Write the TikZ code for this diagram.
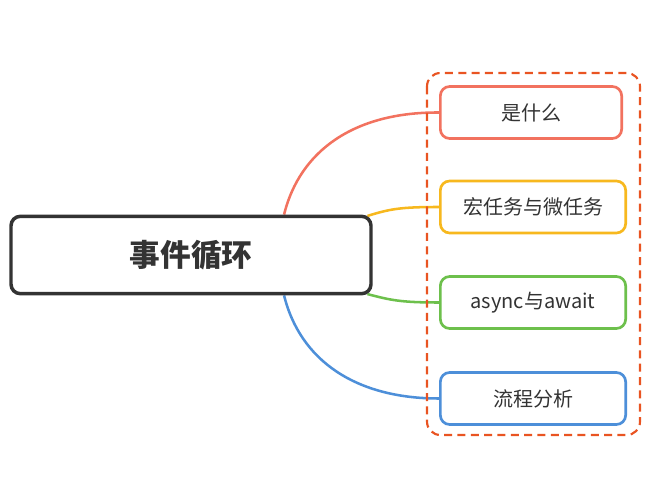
\documentclass[tikz,border=0pt]{standalone}
\usepackage{fontspec}
\newfontfamily\cjk{Noto Sans CJK SC}
\usetikzlibrary{backgrounds}
\definecolor{txt}{HTML}{333333}
\definecolor{cred}{HTML}{F2725F}
\definecolor{cyellow}{HTML}{F7B81E}
\definecolor{cgreen}{HTML}{6DC04C}
\definecolor{cblue}{HTML}{4D8FD9}
\definecolor{cdash}{HTML}{E95422}
\tikzset{
  topic/.style={draw=txt, line width=2.6pt, rounded corners=7pt, fill=white, text=txt,
    minimum width=270pt, minimum height=58pt, font=\cjk\fontsize{23}{26}\selectfont\bfseries},
  item/.style={line width=2pt, rounded corners=7pt, fill=white, text=txt,
    minimum width=139pt, minimum height=39pt, font=\cjk\fontsize{15}{18}\selectfont},
  branch/.style={line width=1.9pt}
}
\begin{document}
\begin{tikzpicture}[x=0.75pt,y=-0.75pt]
\useasboundingbox (0,0) rectangle (649,484);

\draw[cdash, line width=1.6pt, dash pattern=on 6pt off 4pt, rounded corners=10pt] (427,73) rectangle (640,435) ; %edit here for the dashed frame

\node[topic] (core) at (191,255) {事件循环};

\node[item, draw=cred, minimum width=136pt] (what) at (531,112.5) {是什么};
\node[item, draw=cyellow] (macro) at (533,207) {宏任务与微任务};
\node[item, draw=cgreen] (async) at (533,302.5) {async与await};
\node[item, draw=cblue] (flow) at (533,398.5) {流程分析};

\begin{scope}[on background layer]
\draw[branch, cred] ([xshift=-66.5pt]core.north east) .. controls (300,150) and (355,112) .. (what.west);
\draw[branch, cyellow] ([xshift=-4pt,yshift=-1pt]core.north east) .. controls (390,209) and (400,207) .. (macro.west);
\draw[branch, cgreen] ([xshift=-4pt,yshift=1pt]core.south east) .. controls (390,300) and (400,302.5) .. (async.west);
\draw[branch, cblue] ([xshift=-66.5pt]core.south east) .. controls (300,360) and (355,398.5) .. (flow.west);
\end{scope}
\end{tikzpicture}
\end{document}
